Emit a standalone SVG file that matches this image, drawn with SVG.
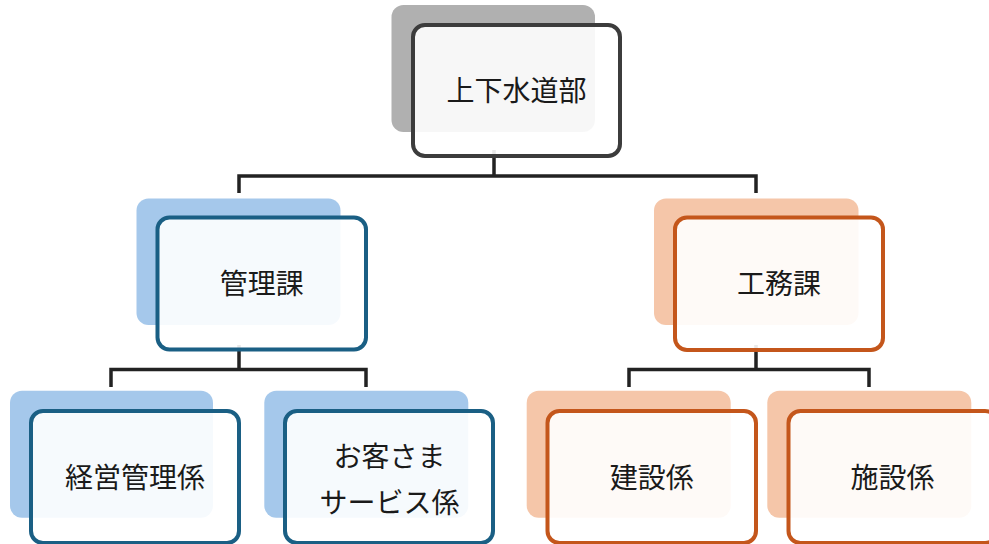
<svg xmlns="http://www.w3.org/2000/svg" width="989" height="544" viewBox="0 0 989 544">
<style>
.bk{stroke:none}
.fr{fill:#ffffff;fill-opacity:0.9;stroke-width:4}
.g .bk{fill:#b0b0b0}.g .fr{stroke:#3c3c3c}
.b .bk{fill:#a5c8eb}.b .fr{stroke:#1a5f84}
.o .bk{fill:#f5c6a9}.o .fr{stroke:#c4561b}
text{font-family:"Noto Sans CJK JP","Noto Sans CJK SC",sans-serif;font-size:28px;fill:#1a1a1a;text-anchor:middle}
.cn{fill:none;stroke:#222222;stroke-width:3.5;stroke-linejoin:miter;stroke-linecap:butt}
</style>
<rect width="989" height="544" fill="#ffffff"/>
<g id="connectors">
<path class="cn" d="M494,150 V176 M239,193 V176 H756 V193"/>
<path class="cn" d="M239,345 V369.5 M111,387 V369.5 H366 V387"/>
<path class="cn" d="M756,345 V369.5 M629,387 V369.5 H869 V387"/>
</g>
<g id="n-top" class="g">
<rect class="bk" x="391.5" y="5" width="203.5" height="127" rx="12"/>
<rect class="fr" x="413" y="25" width="207" height="131" rx="12"/>
<text x="516.5" y="101">上下水道部</text>
</g>
<g id="n-kanri" class="b">
<rect class="bk" x="136.5" y="198.5" width="204" height="126.5" rx="12"/>
<rect class="fr" x="157.5" y="217.5" width="208.5" height="132" rx="12"/>
<text x="261.7" y="293.5">管理課</text>
</g>
<g id="n-koumu" class="o">
<rect class="bk" x="654" y="198.5" width="204.5" height="126.5" rx="12"/>
<rect class="fr" x="675" y="217.5" width="208" height="132.5" rx="12"/>
<text x="779" y="293.5">工務課</text>
</g>
<g id="n-keiei" class="b">
<rect class="bk" x="10" y="390.7" width="203" height="127" rx="12"/>
<rect class="fr" x="31" y="411" width="208" height="132" rx="12"/>
<text x="135" y="488">経営管理係</text>
</g>
<g id="n-okyaku" class="b">
<rect class="bk" x="264.3" y="390.7" width="204" height="127" rx="12"/>
<rect class="fr" x="285" y="411" width="208" height="132" rx="12"/>
<text x="389.5" y="467">お客さま</text>
<text x="389.5" y="513">サービス係</text>
</g>
<g id="n-kensetsu" class="o">
<rect class="bk" x="526.7" y="390.7" width="204" height="127" rx="12"/>
<rect class="fr" x="547.5" y="411" width="208.5" height="132" rx="12"/>
<text x="651.7" y="488">建設係</text>
</g>
<g id="n-shisetsu" class="o">
<rect class="bk" x="767.3" y="390.7" width="204" height="127" rx="12"/>
<rect class="fr" x="788.5" y="411" width="208.5" height="132" rx="12"/>
<text x="892.5" y="488">施設係</text>
</g>
</svg>
